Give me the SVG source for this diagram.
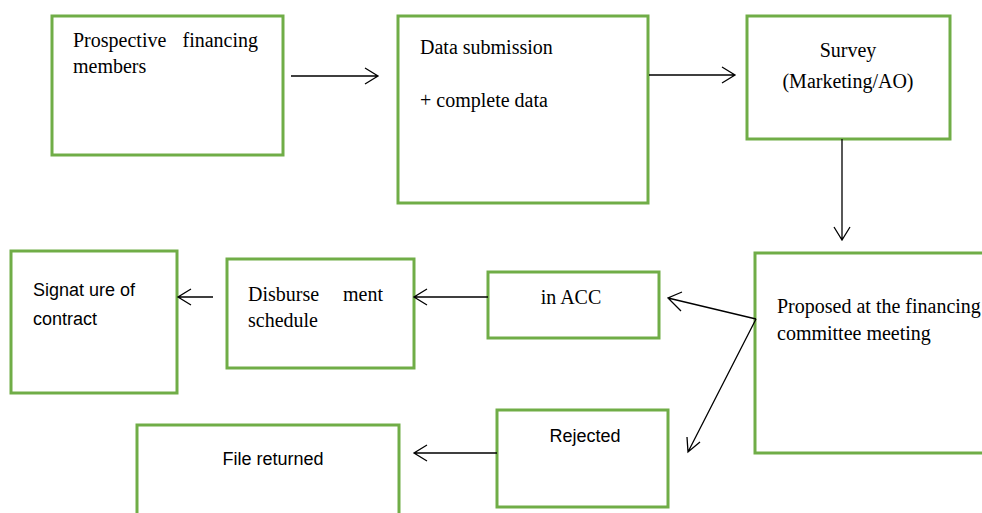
<svg xmlns="http://www.w3.org/2000/svg" width="982" height="513" viewBox="0 0 982 513">
  <style>
    .box { fill: #ffffff; stroke: #70ad47; stroke-width: 3; }
    .serif { font-family: "Liberation Serif", "Times New Roman", serif; font-size: 20px; fill: #000; }
    .sans { font-family: "Liberation Sans", Arial, sans-serif; font-size: 18px; fill: #000; }
    .conn { stroke: #000; stroke-width: 1.3; fill: none; }
  </style>
  <rect width="982" height="513" fill="#ffffff"/>

  <g id="prospective">
    <rect class="box" x="52" y="16" width="231" height="139"/>
    <text class="serif" x="73" y="47">Prospective</text>
    <text class="serif" x="258" y="47" text-anchor="end">financing</text>
    <text class="serif" x="73" y="73">members</text>
  </g>

  <g id="data-submission">
    <rect class="box" x="398" y="16" width="250" height="187"/>
    <text class="serif" x="420" y="54" font-size="19.5">Data  submission</text>
    <text class="serif" x="420" y="107" font-size="19.5">+ complete data</text>
  </g>

  <g id="survey">
    <rect class="box" x="747" y="16" width="203" height="123"/>
    <text class="serif" x="848" y="57" text-anchor="middle" font-size="22">Survey</text>
    <text class="serif" x="848" y="88" text-anchor="middle" font-size="22">(Marketing/AO)</text>
  </g>

  <g id="proposed">
    <rect class="box" x="755" y="253" width="240" height="200"/>
    <text class="serif" x="777" y="313">Proposed at the financing</text>
    <text class="serif" x="777" y="340">committee meeting</text>
  </g>

  <g id="in-acc">
    <rect class="box" x="488" y="272" width="171" height="66"/>
    <text class="serif" x="571" y="304" text-anchor="middle" font-size="22">in ACC</text>
  </g>

  <g id="disbursement">
    <rect class="box" x="227" y="259" width="187" height="109"/>
    <text class="serif" x="248" y="301">Disburse</text>
    <text class="serif" x="383" y="301" text-anchor="end">ment</text>
    <text class="serif" x="248" y="327">schedule</text>
  </g>

  <g id="signature">
    <rect class="box" x="11" y="251" width="166" height="142"/>
    <text class="sans" x="33" y="296">Signat ure of</text>
    <text class="sans" x="33" y="325">contract</text>
  </g>

  <g id="rejected">
    <rect class="box" x="497" y="410" width="171" height="97"/>
    <text class="sans" x="585" y="442" text-anchor="middle">Rejected</text>
  </g>

  <g id="file-returned">
    <rect class="box" x="137" y="425" width="262" height="100"/>
    <text class="sans" x="273" y="465" text-anchor="middle">File returned</text>
  </g>

  <g id="connectors">
    <!-- prospective -> data submission -->
    <path class="conn" d="M291 76 H378 M365 68 L378 76 L365 84"/>
    <!-- data submission -> survey -->
    <path class="conn" d="M649 75 H735 M722 67 L735 75 L722 83"/>
    <!-- survey -> proposed -->
    <path class="conn" d="M842 139 V240 M834 227 L842 240 L850 227"/>
    <!-- proposed -> in ACC -->
    <path class="conn" d="M756 319 L668 298 M682 292 L668 298 L681 311"/>
    <!-- proposed -> rejected -->
    <path class="conn" d="M756 319 L688 452 M687 437 L688 452 L700 442"/>
    <!-- in ACC -> disbursement -->
    <path class="conn" d="M488 297 H414 M427 289 L414 297 L427 305"/>
    <!-- disbursement -> signature -->
    <path class="conn" d="M213 297 H178 M191 289 L178 297 L191 305"/>
    <!-- rejected -> file returned -->
    <path class="conn" d="M497 453 H414 M427 445 L414 453 L427 461"/>
  </g>
</svg>
